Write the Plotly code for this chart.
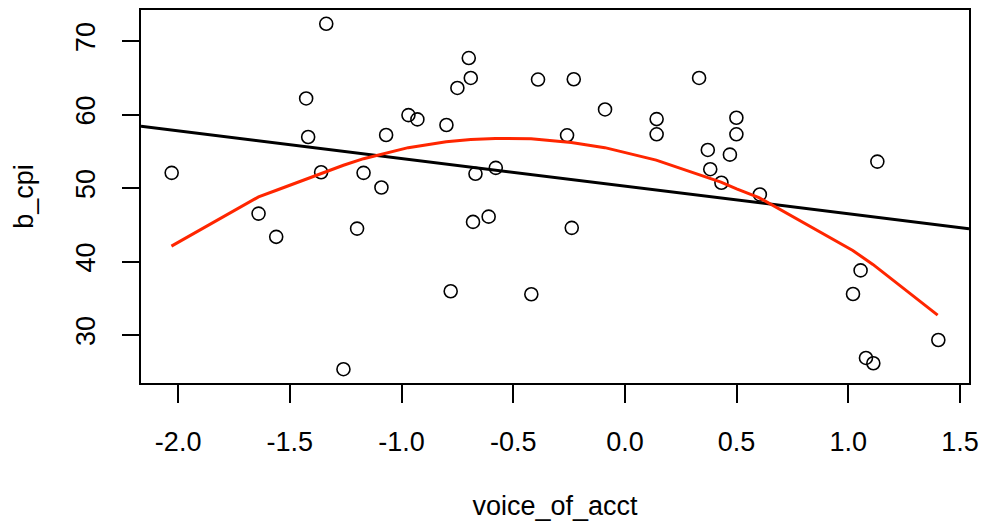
import plotly.graph_objects as go

# scatter data (voice_of_acct, b_cpi)
voice_of_acct = [-2.029, -1.640, -1.561, -1.427, -1.418, -1.360, -1.337, -1.260, -1.199, -1.170,
                 -1.090, -1.069, -0.969, -0.929, -0.799, -0.780, -0.750, -0.699, -0.690, -0.680,
                 -0.669, -0.610, -0.578, -0.419, -0.389, -0.259, -0.238, -0.229, -0.089, 0.142,
                 0.142, 0.332, 0.371, 0.382, 0.432, 0.470, 0.499, 0.499, 0.604, 1.021,
                 1.055, 1.079, 1.112, 1.130, 1.403]
b_cpi = [52.07, 46.52, 43.36, 62.20, 56.95, 52.15, 72.36, 25.34, 44.48, 52.07,
         50.08, 57.22, 59.93, 59.35, 58.58, 35.95, 63.63, 67.70, 64.99, 45.39,
         51.94, 46.11, 52.75, 35.54, 64.77, 57.18, 44.58, 64.81, 60.70, 59.39,
         57.32, 64.99, 55.19, 52.57, 50.72, 54.55, 59.57, 57.32, 49.13, 35.58,
         38.79, 26.87, 26.15, 53.60, 29.31]

# linear fit line (intercept, slope)
fit_intercept = 50.26
fit_slope = -3.76

# smooth curve vertices (red)
smooth_x = [-2.03, -1.64, -1.56, -1.42, -1.36, -1.26, -1.17, -1.07, -0.97, -0.80, -0.69, -0.58,
            -0.42, -0.24, -0.09, 0.14, 0.33, 0.43, 0.50, 0.60, 1.02, 1.06, 1.11, 1.40]
smooth_y = [42.1, 48.8, 49.7, 51.3, 52.0, 53.1, 54.0, 54.8, 55.5, 56.3, 56.6, 56.75,
            56.7, 56.2, 55.5, 53.8, 51.9, 50.8, 49.9, 48.7, 41.5, 40.7, 39.6, 32.7]

x_ticks = [-2.0, -1.5, -1.0, -0.5, 0.0, 0.5, 1.0, 1.5]
x_tick_labels = ["-2.0", "-1.5", "-1.0", "-0.5", "0.0", "0.5", "1.0", "1.5"]
y_ticks = [30, 40, 50, 60, 70]
y_tick_labels = ["30", "40", "50", "60", "70"]

def padded(vals, f=0.04):
    lo, hi = min(vals), max(vals)
    d = (hi - lo) * f
    return [lo - d, hi + d]

xr = padded(voice_of_acct)
yr = padded(b_cpi)

fig = go.Figure()
fig.add_trace(go.Scatter(
    x=voice_of_acct, y=b_cpi, mode="markers",
    marker=dict(symbol="circle-open", size=13, color="black", line=dict(width=1.6, color="black")),
    showlegend=False, cliponaxis=False))
fig.add_trace(go.Scatter(
    x=xr, y=[fit_intercept + fit_slope * v for v in xr], mode="lines",
    line=dict(color="black", width=3), showlegend=False))
fig.add_trace(go.Scatter(
    x=smooth_x, y=smooth_y, mode="lines",
    line=dict(color="#ff2600", width=3), showlegend=False))

font = dict(family="Liberation Sans, Arial, sans-serif", size=27, color="black")
fig.update_layout(
    width=983, height=525,
    margin=dict(l=141, r=14, t=10, b=142),
    paper_bgcolor="white", plot_bgcolor="white",
    font=font,
    xaxis=dict(range=xr, tickvals=x_ticks, ticktext=x_tick_labels, ticks="outside",
               ticklen=18, tickwidth=1.5, tickcolor="black", showgrid=False, zeroline=False,
               showline=True, linecolor="black", linewidth=1.5, mirror=True,
               ticklabelstandoff=16, automargin=False,
               title=dict(text="voice_of_acct", font=font, standoff=40)),
    yaxis=dict(range=yr, tickvals=y_ticks, ticktext=y_tick_labels, ticks="outside",
               ticklen=17, tickwidth=1.5, tickcolor="black", showgrid=False, zeroline=False,
               showline=True, linecolor="black", linewidth=1.5, mirror=True,
               tickangle=-90, ticklabelstandoff=16, automargin=False,
               title=dict(text="b_cpi", font=font, standoff=30)),
)
fig.write_html("out.html")
